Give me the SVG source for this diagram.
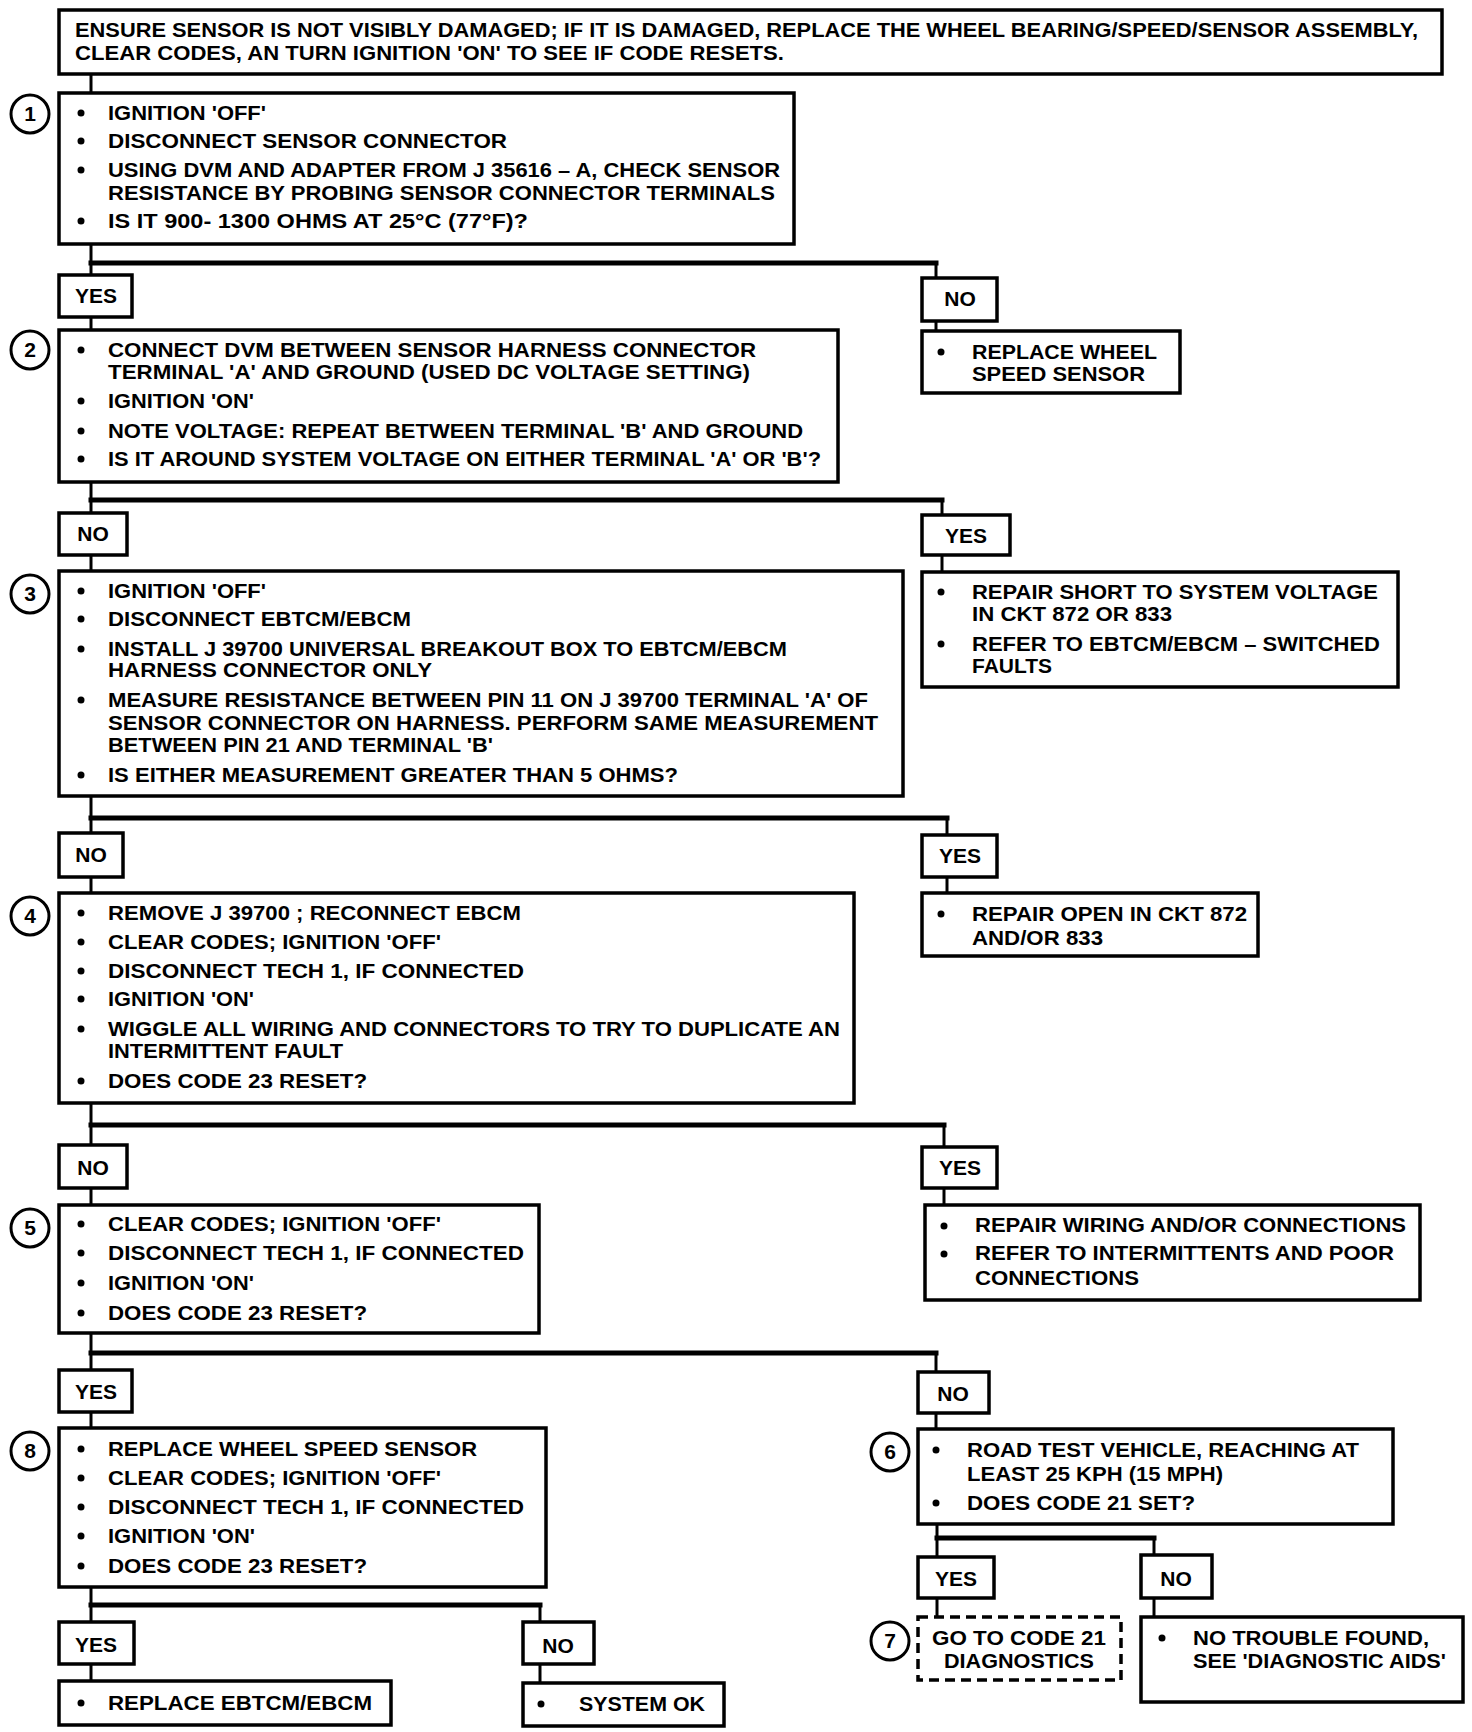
<svg xmlns="http://www.w3.org/2000/svg" width="1472" height="1732" viewBox="0 0 1472 1732">
<style>
.box{fill:#fff;stroke:#000;stroke-width:3.5}
.dash{stroke-dasharray:10 6}
.t{font-family:"Liberation Sans",Arial,sans-serif;font-weight:bold;font-size:21px;fill:#000}
.c{text-anchor:middle}
.n{font-family:"Liberation Sans",Arial,sans-serif;font-weight:bold;font-size:21px;text-anchor:middle}
.num{fill:#fff;stroke:#000;stroke-width:3}
.conn line{stroke:#000;stroke-width:3;stroke-linecap:square}
.conn line.b{stroke-width:5}
.bul{fill:#000}
</style>
<rect width="1472" height="1732" fill="#fff"/>
<g id="connectors" class="conn">
<line x1="91" y1="74" x2="91" y2="93"/>
<line x1="91" y1="244" x2="91" y2="275"/>
<line class="b" x1="91" y1="263" x2="936" y2="263"/>
<line x1="936" y1="263" x2="936" y2="278"/>
<line x1="91" y1="317" x2="91" y2="330"/>
<line x1="936" y1="321" x2="936" y2="331"/>
<line x1="91" y1="482" x2="91" y2="513"/>
<line class="b" x1="91" y1="500" x2="942" y2="500"/>
<line x1="942" y1="500" x2="942" y2="515"/>
<line x1="91" y1="555" x2="91" y2="571"/>
<line x1="942" y1="555" x2="942" y2="572"/>
<line x1="91" y1="796" x2="91" y2="833"/>
<line class="b" x1="91" y1="818" x2="947" y2="818"/>
<line x1="947" y1="818" x2="947" y2="835"/>
<line x1="91" y1="877" x2="91" y2="893"/>
<line x1="947" y1="877" x2="947" y2="893"/>
<line x1="91" y1="1103" x2="91" y2="1145"/>
<line class="b" x1="91" y1="1125" x2="944" y2="1125"/>
<line x1="944" y1="1125" x2="944" y2="1147"/>
<line x1="91" y1="1188" x2="91" y2="1205"/>
<line x1="944" y1="1188" x2="944" y2="1205"/>
<line x1="91" y1="1333" x2="91" y2="1370"/>
<line class="b" x1="91" y1="1353" x2="936" y2="1353"/>
<line x1="936" y1="1353" x2="936" y2="1372"/>
<line x1="91" y1="1412" x2="91" y2="1428"/>
<line x1="936" y1="1413" x2="936" y2="1429"/>
<line x1="937" y1="1524" x2="937" y2="1557"/>
<line class="b" x1="937" y1="1538" x2="1154" y2="1538"/>
<line x1="1154" y1="1538" x2="1154" y2="1555"/>
<line x1="937" y1="1598" x2="937" y2="1617"/>
<line x1="1154" y1="1598" x2="1154" y2="1617"/>
<line x1="91" y1="1587" x2="91" y2="1622"/>
<line class="b" x1="91" y1="1605" x2="540" y2="1605"/>
<line x1="540" y1="1605" x2="540" y2="1622"/>
<line x1="91" y1="1664" x2="91" y2="1681"/>
<line x1="540" y1="1664" x2="540" y2="1683"/>
</g>

<g id="start">
<rect class="box" x="59" y="10" width="1383" height="64"/>
<text class="t" x="75" y="37" textLength="1343" lengthAdjust="spacingAndGlyphs">ENSURE SENSOR IS NOT VISIBLY DAMAGED; IF IT IS DAMAGED, REPLACE THE WHEEL BEARING/SPEED/SENSOR ASSEMBLY,</text>
<text class="t" x="75" y="60" textLength="709" lengthAdjust="spacingAndGlyphs">CLEAR CODES, AN TURN IGNITION 'ON' TO SEE IF CODE RESETS.</text>
</g>

<g id="step1">
<circle class="num" cx="30" cy="114" r="19"/><text class="n" x="30" y="121">1</text>
<rect class="box" x="59" y="93" width="735" height="151"/>
<circle class="bul" cx="81" cy="113" r="3.5"/><text class="t" x="108" y="120" textLength="158" lengthAdjust="spacingAndGlyphs">IGNITION 'OFF'</text>
<circle class="bul" cx="81" cy="141" r="3.5"/><text class="t" x="108" y="148" textLength="399" lengthAdjust="spacingAndGlyphs">DISCONNECT SENSOR CONNECTOR</text>
<circle class="bul" cx="81" cy="170" r="3.5"/><text class="t" x="108" y="177" textLength="672" lengthAdjust="spacingAndGlyphs">USING DVM AND ADAPTER FROM J  35616 – A, CHECK SENSOR</text>
<text class="t" x="108" y="200" textLength="667" lengthAdjust="spacingAndGlyphs">RESISTANCE BY PROBING SENSOR CONNECTOR TERMINALS</text>
<circle class="bul" cx="81" cy="221" r="3.5"/><text class="t" x="108" y="228" textLength="420" lengthAdjust="spacingAndGlyphs">IS IT  900- 1300 OHMS AT 25°C (77°F)?</text>
</g>

<g id="yes1"><rect class="box" x="59" y="275" width="73" height="42"/><text class="n" x="96" y="303">YES</text></g>
<g id="no1"><rect class="box" x="922" y="278" width="75" height="43"/><text class="n" x="960" y="306">NO</text></g>

<g id="replace-sensor">
<rect class="box" x="922" y="331" width="258" height="62"/>
<circle class="bul" cx="941" cy="352" r="3.5"/><text class="t" x="972" y="359" textLength="185" lengthAdjust="spacingAndGlyphs">REPLACE WHEEL</text>
<text class="t" x="972" y="381" textLength="173" lengthAdjust="spacingAndGlyphs">SPEED SENSOR</text>
</g>

<g id="step2">
<circle class="num" cx="30" cy="350" r="19"/><text class="n" x="30" y="357">2</text>
<rect class="box" x="59" y="330" width="779" height="152"/>
<circle class="bul" cx="81" cy="350" r="3.5"/><text class="t" x="108" y="357" textLength="648" lengthAdjust="spacingAndGlyphs">CONNECT DVM BETWEEN SENSOR HARNESS CONNECTOR</text>
<text class="t" x="108" y="379" textLength="642" lengthAdjust="spacingAndGlyphs">TERMINAL  'A' AND GROUND (USED DC VOLTAGE SETTING)</text>
<circle class="bul" cx="81" cy="401" r="3.5"/><text class="t" x="108" y="408" textLength="146" lengthAdjust="spacingAndGlyphs">IGNITION 'ON'</text>
<circle class="bul" cx="81" cy="431" r="3.5"/><text class="t" x="108" y="438" textLength="695" lengthAdjust="spacingAndGlyphs">NOTE VOLTAGE: REPEAT BETWEEN TERMINAL 'B' AND GROUND</text>
<circle class="bul" cx="81" cy="459" r="3.5"/><text class="t" x="108" y="466" textLength="713" lengthAdjust="spacingAndGlyphs">IS IT AROUND SYSTEM VOLTAGE ON EITHER TERMINAL 'A' OR 'B'?</text>
</g>

<g id="no2"><rect class="box" x="59" y="513" width="68" height="42"/><text class="n" x="93" y="541">NO</text></g>
<g id="yes2"><rect class="box" x="922" y="515" width="88" height="40"/><text class="n" x="966" y="543">YES</text></g>

<g id="repair-short">
<rect class="box" x="922" y="572" width="476" height="115"/>
<circle class="bul" cx="941" cy="592" r="3.5"/><text class="t" x="972" y="599" textLength="406" lengthAdjust="spacingAndGlyphs">REPAIR SHORT TO SYSTEM VOLTAGE</text>
<text class="t" x="972" y="621" textLength="200" lengthAdjust="spacingAndGlyphs">IN CKT 872 OR 833</text>
<circle class="bul" cx="941" cy="644" r="3.5"/><text class="t" x="972" y="651" textLength="408" lengthAdjust="spacingAndGlyphs">REFER TO EBTCM/EBCM – SWITCHED</text>
<text class="t" x="972" y="673" textLength="80" lengthAdjust="spacingAndGlyphs">FAULTS</text>
</g>

<g id="step3">
<circle class="num" cx="30" cy="594" r="19"/><text class="n" x="30" y="601">3</text>
<rect class="box" x="59" y="571" width="844" height="225"/>
<circle class="bul" cx="81" cy="591" r="3.5"/><text class="t" x="108" y="598" textLength="158" lengthAdjust="spacingAndGlyphs">IGNITION 'OFF'</text>
<circle class="bul" cx="81" cy="619" r="3.5"/><text class="t" x="108" y="626" textLength="303" lengthAdjust="spacingAndGlyphs">DISCONNECT EBTCM/EBCM</text>
<circle class="bul" cx="81" cy="649" r="3.5"/><text class="t" x="108" y="656" textLength="679" lengthAdjust="spacingAndGlyphs">INSTALL J 39700 UNIVERSAL BREAKOUT BOX TO EBTCM/EBCM</text>
<text class="t" x="108" y="677" textLength="324" lengthAdjust="spacingAndGlyphs">HARNESS CONNECTOR ONLY</text>
<circle class="bul" cx="81" cy="700" r="3.5"/><text class="t" x="108" y="707" textLength="760" lengthAdjust="spacingAndGlyphs">MEASURE RESISTANCE BETWEEN PIN 11 ON J 39700 TERMINAL 'A' OF</text>
<text class="t" x="108" y="730" textLength="770" lengthAdjust="spacingAndGlyphs">SENSOR CONNECTOR ON HARNESS. PERFORM SAME MEASUREMENT</text>
<text class="t" x="108" y="752" textLength="385" lengthAdjust="spacingAndGlyphs">BETWEEN PIN 21 AND TERMINAL 'B'</text>
<circle class="bul" cx="81" cy="775" r="3.5"/><text class="t" x="108" y="782" textLength="570" lengthAdjust="spacingAndGlyphs">IS EITHER MEASUREMENT GREATER THAN 5 OHMS?</text>
</g>

<g id="no3"><rect class="box" x="59" y="833" width="64" height="44"/><text class="n" x="91" y="862">NO</text></g>
<g id="yes3"><rect class="box" x="922" y="835" width="75" height="42"/><text class="n" x="960" y="863">YES</text></g>

<g id="repair-open">
<rect class="box" x="922" y="893" width="336" height="63"/>
<circle class="bul" cx="941" cy="914" r="3.5"/><text class="t" x="972" y="921" textLength="275" lengthAdjust="spacingAndGlyphs">REPAIR OPEN IN CKT 872</text>
<text class="t" x="972" y="945" textLength="131" lengthAdjust="spacingAndGlyphs">AND/OR 833</text>
</g>

<g id="step4">
<circle class="num" cx="30" cy="916" r="19"/><text class="n" x="30" y="923">4</text>
<rect class="box" x="59" y="893" width="795" height="210"/>
<circle class="bul" cx="81" cy="913" r="3.5"/><text class="t" x="108" y="920" textLength="413" lengthAdjust="spacingAndGlyphs">REMOVE J 39700 ; RECONNECT EBCM</text>
<circle class="bul" cx="81" cy="942" r="3.5"/><text class="t" x="108" y="949" textLength="333" lengthAdjust="spacingAndGlyphs">CLEAR CODES; IGNITION 'OFF'</text>
<circle class="bul" cx="81" cy="971" r="3.5"/><text class="t" x="108" y="978" textLength="416" lengthAdjust="spacingAndGlyphs">DISCONNECT TECH 1, IF CONNECTED</text>
<circle class="bul" cx="81" cy="999" r="3.5"/><text class="t" x="108" y="1006" textLength="146" lengthAdjust="spacingAndGlyphs">IGNITION 'ON'</text>
<circle class="bul" cx="81" cy="1029" r="3.5"/><text class="t" x="108" y="1036" textLength="732" lengthAdjust="spacingAndGlyphs">WIGGLE ALL WIRING AND CONNECTORS TO TRY TO DUPLICATE AN</text>
<text class="t" x="108" y="1058" textLength="235" lengthAdjust="spacingAndGlyphs">INTERMITTENT FAULT</text>
<circle class="bul" cx="81" cy="1081" r="3.5"/><text class="t" x="108" y="1088" textLength="259" lengthAdjust="spacingAndGlyphs">DOES CODE 23 RESET?</text>
</g>

<g id="no4"><rect class="box" x="59" y="1145" width="68" height="43"/><text class="n" x="93" y="1175">NO</text></g>
<g id="yes4"><rect class="box" x="922" y="1147" width="75" height="41"/><text class="n" x="960" y="1175">YES</text></g>

<g id="repair-wiring">
<rect class="box" x="925" y="1205" width="495" height="95"/>
<circle class="bul" cx="944" cy="1226" r="3.5"/><text class="t" x="975" y="1232" textLength="431" lengthAdjust="spacingAndGlyphs">REPAIR WIRING AND/OR CONNECTIONS</text>
<circle class="bul" cx="944" cy="1254" r="3.5"/><text class="t" x="975" y="1260" textLength="419" lengthAdjust="spacingAndGlyphs">REFER TO INTERMITTENTS AND POOR</text>
<text class="t" x="975" y="1285" textLength="164" lengthAdjust="spacingAndGlyphs">CONNECTIONS</text>
</g>

<g id="step5">
<circle class="num" cx="30" cy="1228" r="19"/><text class="n" x="30" y="1235">5</text>
<rect class="box" x="59" y="1205" width="480" height="128"/>
<circle class="bul" cx="81" cy="1224" r="3.5"/><text class="t" x="108" y="1231" textLength="333" lengthAdjust="spacingAndGlyphs">CLEAR CODES; IGNITION 'OFF'</text>
<circle class="bul" cx="81" cy="1253" r="3.5"/><text class="t" x="108" y="1260" textLength="416" lengthAdjust="spacingAndGlyphs">DISCONNECT TECH 1, IF CONNECTED</text>
<circle class="bul" cx="81" cy="1283" r="3.5"/><text class="t" x="108" y="1290" textLength="146" lengthAdjust="spacingAndGlyphs">IGNITION 'ON'</text>
<circle class="bul" cx="81" cy="1313" r="3.5"/><text class="t" x="108" y="1320" textLength="259" lengthAdjust="spacingAndGlyphs">DOES CODE 23 RESET?</text>
</g>

<g id="yes5"><rect class="box" x="59" y="1370" width="73" height="42"/><text class="n" x="96" y="1399">YES</text></g>
<g id="no5"><rect class="box" x="918" y="1372" width="71" height="41"/><text class="n" x="953" y="1401">NO</text></g>

<g id="step8">
<circle class="num" cx="30" cy="1451" r="19"/><text class="n" x="30" y="1458">8</text>
<rect class="box" x="59" y="1428" width="487" height="159"/>
<circle class="bul" cx="81" cy="1449" r="3.5"/><text class="t" x="108" y="1456" textLength="369" lengthAdjust="spacingAndGlyphs">REPLACE WHEEL SPEED SENSOR</text>
<circle class="bul" cx="81" cy="1478" r="3.5"/><text class="t" x="108" y="1485" textLength="333" lengthAdjust="spacingAndGlyphs">CLEAR CODES; IGNITION 'OFF'</text>
<circle class="bul" cx="81" cy="1507" r="3.5"/><text class="t" x="108" y="1514" textLength="416" lengthAdjust="spacingAndGlyphs">DISCONNECT TECH 1, IF CONNECTED</text>
<circle class="bul" cx="81" cy="1536" r="3.5"/><text class="t" x="108" y="1543" textLength="147" lengthAdjust="spacingAndGlyphs">IGNITION 'ON'</text>
<circle class="bul" cx="81" cy="1566" r="3.5"/><text class="t" x="108" y="1573" textLength="259" lengthAdjust="spacingAndGlyphs">DOES CODE 23 RESET?</text>
</g>

<g id="step6">
<circle class="num" cx="890" cy="1452" r="19"/><text class="n" x="890" y="1459">6</text>
<rect class="box" x="918" y="1429" width="475" height="95"/>
<circle class="bul" cx="936" cy="1450" r="3.5"/><text class="t" x="967" y="1457" textLength="392" lengthAdjust="spacingAndGlyphs">ROAD TEST VEHICLE, REACHING AT</text>
<text class="t" x="967" y="1481" textLength="256" lengthAdjust="spacingAndGlyphs">LEAST 25 KPH (15 MPH)</text>
<circle class="bul" cx="936" cy="1503" r="3.5"/><text class="t" x="967" y="1510" textLength="228" lengthAdjust="spacingAndGlyphs">DOES CODE 21 SET?</text>
</g>

<g id="yes6"><rect class="box" x="918" y="1557" width="76" height="41"/><text class="n" x="956" y="1586">YES</text></g>
<g id="no6"><rect class="box" x="1141" y="1555" width="71" height="43"/><text class="n" x="1176" y="1586">NO</text></g>

<g id="step7">
<circle class="num" cx="890" cy="1641" r="19"/><text class="n" x="890" y="1648">7</text>
<rect class="box dash" x="918" y="1617" width="203" height="63"/>
<text class="t c" x="1019" y="1645" textLength="174" lengthAdjust="spacingAndGlyphs">GO TO CODE 21</text>
<text class="t c" x="1019" y="1668" textLength="150" lengthAdjust="spacingAndGlyphs">DIAGNOSTICS</text>
</g>

<g id="no-trouble">
<rect class="box" x="1141" y="1617" width="322" height="85"/>
<circle class="bul" cx="1162" cy="1638" r="3.5"/><text class="t" x="1193" y="1645" textLength="236" lengthAdjust="spacingAndGlyphs">NO TROUBLE FOUND,</text>
<text class="t" x="1193" y="1668" textLength="253" lengthAdjust="spacingAndGlyphs">SEE 'DIAGNOSTIC AIDS'</text>
</g>

<g id="yes7"><rect class="box" x="59" y="1622" width="75" height="42"/><text class="n" x="96" y="1652">YES</text></g>
<g id="no7"><rect class="box" x="523" y="1622" width="71" height="42"/><text class="n" x="558" y="1653">NO</text></g>

<g id="replace-ebtcm">
<rect class="box" x="59" y="1681" width="332" height="44"/>
<circle class="bul" cx="81" cy="1703" r="3.5"/><text class="t" x="108" y="1710" textLength="264" lengthAdjust="spacingAndGlyphs">REPLACE  EBTCM/EBCM</text>
</g>

<g id="system-ok">
<rect class="box" x="523" y="1683" width="201" height="43"/>
<circle class="bul" cx="541" cy="1704" r="3.5"/><text class="t" x="579" y="1711" textLength="126" lengthAdjust="spacingAndGlyphs">SYSTEM OK</text>
</g>
</svg>
